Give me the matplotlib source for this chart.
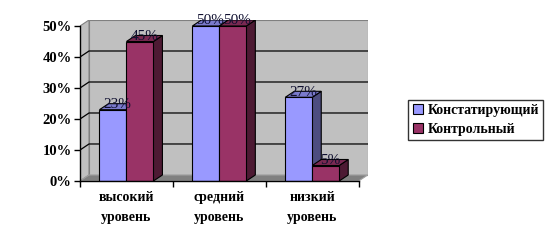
import matplotlib.pyplot as plt
from matplotlib.patches import Polygon
from matplotlib.lines import Line2D

categories = ["высокий\nуровень", "средний\nуровень", "низкий\nуровень"]
series_names = ["Констатирующий", "Контрольный"]
konst = [23, 50, 27]
kontr = [45, 50, 5]
value_labels = [["23%", "50%", "27%"], ["45%", "50%", "5%"]]
yticks = [0, 10, 20, 30, 40, 50]

front_colors = ["#9999FF", "#993366"]
top_colors = ["#7A7ACC", "#7A2952"]
side_colors = ["#4D4D80", "#4D1A33"]

plt.rcParams["font.family"] = ["Liberation Serif", "DejaVu Serif"]

fig = plt.figure(figsize=(5.52, 2.44), dpi=100)
ax = fig.add_axes([80 / 552, 1 - 181 / 244, 287.7 / 552, 161 / 244])

# depth offset of the 3D box, in data units
dx, dy = 0.097, 1.94
x0, x1 = -0.5, 2.5
ymax = 50

ax.set_xlim(x0, x1 + dx)
ax.set_ylim(0, ymax + dy)

# walls and floor
ax.add_patch(Polygon([(x0 + dx, dy), (x1 + dx, dy), (x1 + dx, ymax + dy), (x0 + dx, ymax + dy)],
                     closed=True, facecolor="#C0C0C0", edgecolor="#808080", lw=0.8, zorder=1))
ax.add_patch(Polygon([(x0, 0), (x0 + dx, dy), (x0 + dx, ymax + dy), (x0, ymax)],
                     closed=True, facecolor="#C0C0C0", edgecolor="#808080", lw=0.8, zorder=1))
ax.add_patch(Polygon([(x0, 0), (x1, 0), (x1 + dx, dy), (x0 + dx, dy)],
                     closed=True, facecolor="#808080", edgecolor="#A0A0A0", lw=0.8, zorder=1))

# gridlines (the 50% line is the grey wall edge)
for y in yticks[1:-1]:
    ax.plot([x0, x0 + dx, x1 + dx], [y, y + dy, y + dy], color="black", lw=0.9, zorder=2)

# bars
bw = 27 / 93
for s, vals in enumerate([konst, kontr]):
    for i, v in enumerate(vals):
        left = i - bw + s * bw
        right = left + bw
        front = Polygon([(left, 0), (right, 0), (right, v), (left, v)], closed=True,
                        facecolor=front_colors[s], edgecolor="black", lw=0.8, zorder=4 + s)
        top = Polygon([(left, v), (right, v), (right + dx, v + dy), (left + dx, v + dy)], closed=True,
                      facecolor=top_colors[s], edgecolor="black", lw=0.8, zorder=4 + s)
        side = Polygon([(right, 0), (right + dx, dy), (right + dx, v + dy), (right, v)], closed=True,
                       facecolor=side_colors[s], edgecolor="black", lw=0.8, zorder=4 + s)
        for p in (side, top, front):
            ax.add_patch(p)
        ax.text((left + right) / 2 + dx / 2, v + dy * 0.85, value_labels[s][i],
                ha="center", va="center", fontsize=11, color="#101030", zorder=10)

# front floor edge
ax.plot([x0, x1], [0, 0], color="black", lw=1, zorder=6, clip_on=False)

for sp in ["top", "right", "bottom"]:
    ax.spines[sp].set_visible(False)
ax.spines["left"].set_bounds(0, ymax)
ax.spines["left"].set_linewidth(1)

ax.set_yticks(yticks)
ax.set_yticklabels([f"{t}%" for t in yticks], fontsize=10.5, fontweight="bold")
ax.tick_params(axis="y", direction="out", length=4, width=1, pad=2)

ax.set_xticks([0, 1, 2])
ax.set_xticklabels(categories, fontsize=10, fontweight="bold", linespacing=1.75)
ax.set_xticks([-0.5, 0.5, 1.5, 2.5], minor=True)
ax.tick_params(axis="x", which="major", length=0, pad=7)
ax.tick_params(axis="x", which="minor", direction="out", length=4, width=1)

handles = [Line2D([], [], marker="s", linestyle="none", markersize=7,
                  markerfacecolor=c, markeredgecolor="black", markeredgewidth=0.8)
           for c in front_colors]
leg = fig.legend(handles, series_names, loc="upper left", bbox_to_anchor=(408 / 552, 1 - 100 / 244),
                 frameon=True, fancybox=False, edgecolor="black", handlelength=0.8, handletextpad=0.3,
                 borderpad=0.3, labelspacing=0.4, borderaxespad=0,
                 prop={"size": 10, "weight": "bold"})
leg.get_frame().set_linewidth(1)

fig.savefig("out.png", dpi=100)
